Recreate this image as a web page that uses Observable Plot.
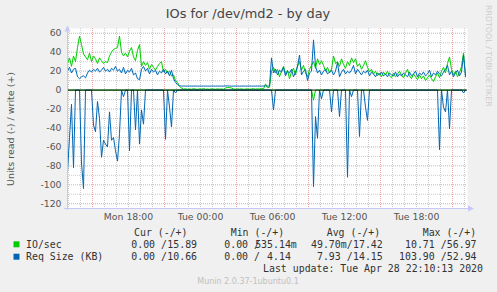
<!DOCTYPE html>
<html><head><meta charset="utf-8">
<script src="https://cdn.jsdelivr.net/npm/d3@7"></script>
<script src="https://cdn.jsdelivr.net/npm/@observablehq/plot@0.6"></script>
<style>
html,body{margin:0;padding:0;background:#F0F0F0;}
#chart{position:relative;width:497px;height:292px;overflow:hidden;}
</style></head><body><div id="chart"></div>
<script>
const title = "IOs for /dev/md2 - by day";
const yLabel = "Units read (-) / write (+)";
const sideText = "RRDTOOL / TOBI OETIKER";
const lastUpdate = "Last update: Tue Apr 28 22:10:13 2020";
const versionText = "Munin 2.0.37-1ubuntu0.1";

const startTime = Date.UTC(2020, 3, 27, 12, 55);
const endTime = Date.UTC(2020, 3, 28, 22, 15);
const stepMinutes = 10;

const xTickTimes = [Date.UTC(2020,3,27,18), Date.UTC(2020,3,28,0), Date.UTC(2020,3,28,6), Date.UTC(2020,3,28,12), Date.UTC(2020,3,28,18)];
const xTickLabels = ["Mon 18:00", "Tue 00:00", "Tue 06:00", "Tue 12:00", "Tue 18:00"];
const yTicks = [60, 40, 20, 0, -20, -40, -60, -80, -100, -120];
const yMinorTicks = [50, 30, 10, -10, -30, -50, -70, -90, -110];

const seriesNames = ["IO/sec", "Req Size (KB)"];
const seriesColors = ["#00CC00", "#0066B3"];
const legendHeaders = ["Cur (-/+)", "Min (-/+)", "Avg (-/+)", "Max (-/+)"];
// [read, write] per series
const curValues = [["0.00 ", "15.89 "], ["0.00 ", "10.66 "]];
const minValues = [["0.00 ", "535.14m"], ["0.00 ", "4.14 "]];
const avgValues = [["49.70m", "17.42 "], ["7.93 ", "14.15 "]];
const maxValues = [["10.71 ", "56.97 "], ["103.90 ", "52.94 "]];

// 10-minute samples starting Mon 12:55
const ioWrite = [
28, 34, 25, 36, 30, 45, 57, 48, 38, 35,
32, 39, 30, 36, 33, 28, 34, 31, 28, 30,
29, 36, 40, 43, 44, 45, 57, 40, 36, 39,
35, 41, 45, 35, 31, 42, 48, 25, 30, 26,
29, 22, 27, 24, 21, 25, 28, 30, 19, 22,
18, 20, 15, 16, 10, 8, 4, 2,
1.0, 1.4, 0.8, 1.2, 0.9, 1.5, 1.1, 0.7, 1.3, 1.0,
1.6, 0.9, 1.2, 0.8, 1.4, 1.1, 0.9, 1.3, 1.0, 1.2,
0.8, 2.2, 2.8, 2.6, 2.2, 1.2, 0.9, 1.3, 1.0, 1.4,
0.8, 1.1, 1.3, 0.9, 1.2, 1.5, 1.0, 1.3, 1.1, 1.8,
1.2, 6.5, 2.5, 3.0,
20, 24, 18, 22, 14, 20, 25, 17, 21, 12,
19, 23, 16, 25, 30, 21, 26, 18, 14, 22,
26, 30, 23, 33, 27, 31, 26, 20, 24, 18,
22, 36, 28, 30, 25, 33, 27, 23, 30, 26,
34, 29, 33, 25, 28, 22, 26, 31, 24, 19,
22, 17, 20, 15, 18, 14, 19, 16, 20, 15,
13, 18, 14, 17, 20, 16, 13, 18, 22, 15,
12, 17, 14, 11, 16, 12, 15, 10, 13, 16,
12, 9, 14, 18, 13, 20, 24, 18, 28, 35,
22, 16, 20, 14, 18, 25, 39, 16
];
const ioRead = [
0,0,0,0,0,0,0,0,0,0,
0,0,0,0,0,0,0,0,0,0,
0,0,0,0,0,0,0,0,0,0,
0,0,0,0,0,0,0,0,0,0,
0,0,0,0,0,0,0,0,0,0,
0,0,0,0,0,0,0,0,
0,0,0,0,0,0,0,0,0,0,
0,0,0,0,0,0,0,0,0,0,
0,0,0,0,0,0,0,0,0,0,
0,0,0,0,0,0,0,0,0,0,
0,0,0,0,
0,0,0,0,0,0,0,0,0,0,
0,0,0,0,0,0,0,0,0,0,
0,10.7,0,0,0,0,0,0,0,0,
0,0,0,0,0,0,0,0,0,0,
0,0,0,0,0,0,0,0,0,0,
0,0,0,0,0,0,0,0,0,0,
0,0,0,0,0,0,0,0,0,0,
0,0,0,0,0,0,0,0,0,0,
0,0,0,0,0,0,0,0,0,0,
0,0,0,0,0,0,0,0
];
const reqWrite = [
20, 24, 18, 22, 23, 14, 12, 14, 15, 13,
18, 21, 19, 22, 20, 23, 19, 21, 24, 20,
22, 19, 23, 21, 25, 20, 22, 18, 24, 17,
21, 19, 23, 16, 18, 12, 11, 22, 25, 20,
23, 17, 22, 19, 21, 16, 20, 18, 22, 17,
20, 15, 21, 12, 8, 6, 4.5, 4.2,
4.3, 4.2, 4.2, 4.3, 4.2, 4.2, 4.3, 4.2, 4.2, 4.2,
4.3, 4.2, 4.2, 4.2, 4.3, 4.2, 4.2, 4.3, 4.2, 4.2,
4.2, 4.4, 4.4, 4.3, 4.2, 4.2, 4.3, 4.2, 4.2, 4.2,
4.3, 4.2, 4.2, 4.3, 4.2, 4.2, 4.2, 4.3, 4.2, 4.2,
4.3, 4.4, 4.3, 4.2,
34, 18, 22, 16, 21, 19, 24, 15, 20, 18,
22, 14, 19, 25, 37, 16, 20, 22, 10, 18,
20, 53, 25, 18, 21, 16, 20, 22, 17, 19,
21, 16, 20, 29, 14, 19, 22, 17, 20, 18,
21, 26, 17, 22, 19, 16, 20, 18, 21, 15,
19, 17, 14, 18, 16, 19, 15, 17, 14, 18,
16, 15, 19, 14, 17, 15, 18, 16, 14, 19,
15, 17, 20, 14, 18, 16, 19, 15, 17, 21,
14, 18, 16, 20, 17, 15, 19, 22, 26, 16,
20, 14, 18, 21, 15, 19, 37, 14
];
const reqRead = [
87, 50, 15, 82, 0, 0, 0, 77, 104, 0,
0, 0, 0, 37, 44, 12, 30, 71, 53, 57,
60, 23, 53, 50, 64, 75, 46, 0, 7, 0,
0, 64, 0, 0, 42, 0, 57, 21, 36, 0,
0, 0, 0, 0, 0, 0, 0, 0, 0, 52,
0, 18, 39, 0, 3, 0, 0, 0,
0,0,0,0,0,0,0,0,0,0,
0,0,0,0,0,0,0,0,0,0,
0,0,0,0,0,0,0,0,0,0,
0,0,0,0,0,0,0,0,0,0,
0,0,0,0,
0, 21, 0, 0, 0, 0, 0, 0, 0, 0,
0, 0, 0, 0, 0, 0, 0, 0, 0, 0,
0, 102, 28, 51, 0, 9, 0, 0, 0, 0,
23, 0, 0, 0, 28, 0, 0, 0, 92, 0,
7, 0, 0, 0, 49, 0, 0, 18, 32, 0,
0, 0, 0, 0, 0, 0, 0, 0, 0, 0,
0, 0, 0, 0, 0, 0, 0, 0, 0, 0,
0, 0, 0, 0, 0, 0, 0, 0, 0, 0,
0, 0, 0, 0, 63, 0, 18, 23, 0, 41,
0, 0, 0, 0, 0, 0, 3, 0
];

const toRows = (arr, sign) => arr.map((v, i) => ({t: new Date(startTime + i * stepMinutes * 60000), v: sign * v}));

const hours = d3.utcHour.range(new Date(startTime), new Date(endTime));
const minorHours = hours.filter(d => d.getUTCHours() % 6 !== 3);
const majorHours = hours.filter(d => d.getUTCHours() % 6 === 3);
const majorY = yTicks.filter(d => d !== 0);

const gridRed = "#eba3a3";
const gridGray = "#cccccc";

const plot = Plot.plot({
  width: 497, height: 292,
  marginTop: 28, marginRight: 30, marginBottom: 84, marginLeft: 67,
  style: {background: "#F0F0F0", fontFamily: "DejaVu Sans", fontSize: "9.3px", color: "#555", overflow: "visible"},
  x: {type: "utc", domain: [new Date(startTime), new Date(endTime)], axis: null},
  y: {domain: [-125, 65], axis: null},
  marks: [
    Plot.frame({fill: "white", stroke: "none"}),
    Plot.ruleX(minorHours, {x: d => d, stroke: gridGray, strokeDasharray: "1,1"}),
    Plot.ruleY(yMinorTicks, {y: d => d, stroke: gridGray, strokeDasharray: "1,1"}),
    Plot.ruleX(majorHours, {x: d => d, stroke: gridRed, strokeDasharray: "1,1"}),
    Plot.ruleY(majorY, {y: d => d, stroke: gridRed, strokeDasharray: "1,1"}),
    Plot.line(toRows(ioRead, -1), {x: "t", y: "v", stroke: seriesColors[0], strokeWidth: 1}),
    Plot.line(toRows(ioWrite, 1), {x: "t", y: "v", stroke: seriesColors[0], strokeWidth: 1}),
    Plot.line(toRows(reqRead, -1), {x: "t", y: "v", stroke: seriesColors[1], strokeWidth: 1}),
    Plot.line(toRows(reqWrite, 1), {x: "t", y: "v", stroke: seriesColors[1], strokeWidth: 1}),
    Plot.ruleY([0], {stroke: "#000", strokeWidth: 1}),
    Plot.text(xTickTimes, {x: d => new Date(d), text: (d, i) => xTickLabels[i], frameAnchor: "bottom", dy: 9, lineAnchor: "middle", fontSize: 9.3, fill: "#555"}),
    Plot.text(yTicks, {y: d => d, text: d => String(d), frameAnchor: "left", textAnchor: "end", dx: -6, lineAnchor: "middle", fontSize: 9.3, fill: "#555"})
  ]
});

document.getElementById("chart").appendChild(plot);
const svg = d3.select(plot);
const deco = svg.append("g").attr("text-anchor", "start");
const axisColor = "#c8c8f8";
// axes with arrows
deco.append("line").attr("x1", 67.5).attr("x2", 67.5).attr("y1", 210).attr("y2", 29).attr("stroke", axisColor);
deco.append("path").attr("d", "M64.5,31.5L70.5,31.5L67.5,25.5Z").attr("fill", axisColor);
deco.append("line").attr("x1", 64).attr("x2", 469).attr("y1", 208.5).attr("y2", 208.5).attr("stroke", axisColor);
deco.append("path").attr("d", "M468,205.5L468,211.5L474,208.5Z").attr("fill", axisColor);

deco.append("text").text(title).attr("x", 248).attr("y", 18.3).attr("text-anchor", "middle")
  .attr("font-size", 12.9).attr("fill", "#444").attr("font-family", "DejaVu Sans");
deco.append("text").text(yLabel).attr("transform", "translate(10.5,129) rotate(-90)")
  .attr("text-anchor", "middle").attr("dy", "0.35em").attr("font-size", 9.5).attr("fill", "#555").attr("font-family", "DejaVu Sans");
deco.append("text").text(sideText).attr("transform", "translate(485.8,5) rotate(90)").attr("text-anchor", "start")
  .attr("font-size", 7.9).attr("fill", "#cccccc").attr("font-family", "DejaVu Sans");

// legend
const mono = "DejaVu Sans Mono";
const lfs = 9.9;
const legend = deco.append("g").attr("font-family", mono).attr("font-size", lfs).attr("fill", "#333").attr("text-anchor", "start").style("white-space", "pre");
const headerX = [134, 230.7, 326.7, 422.7];
legendHeaders.forEach((h, i) => legend.append("text").text(h).attr("x", headerX[i]).attr("y", 232.7).attr("dy", "0.35em").attr("text-anchor", "start"));
const rowY = [244.3, 256.7];
const cols = [curValues, minValues, avgValues, maxValues];
const slashX = [161, 254, 346.7, 440.7];
const writeEnd = [203, 296.8, 388.7, 482.5];
seriesNames.forEach((name, r) => {
  legend.append("rect").attr("x", 13.5).attr("y", rowY[r] - 3).attr("width", 6).attr("height", 6).attr("fill", seriesColors[r]);
  legend.append("text").text(name).attr("x", 26).attr("y", rowY[r]).attr("dy", "0.35em").attr("text-anchor", "start");
  cols.forEach((c, j) => {
    const t = legend.append("text").attr("y", rowY[r]).attr("dy", "0.35em");
    t.append("tspan").attr("x", slashX[j]).attr("text-anchor", "end").text(c[r][0]);
    t.append("tspan").attr("x", slashX[j]).attr("text-anchor", "start").text("/");
    t.append("tspan").attr("x", writeEnd[j]).attr("text-anchor", "end").text(c[r][1]);
  });
});
legend.append("text").text(lastUpdate).attr("x", 483).attr("y", 268.7).attr("dy", "0.35em").attr("text-anchor", "end");
deco.append("text").text(versionText).attr("x", 248).attr("y", 281).attr("dy", "0.35em").attr("text-anchor", "middle")
  .attr("font-size", 8).attr("fill", "#c0c0c0").attr("font-family", "DejaVu Sans");
</script></body></html>
